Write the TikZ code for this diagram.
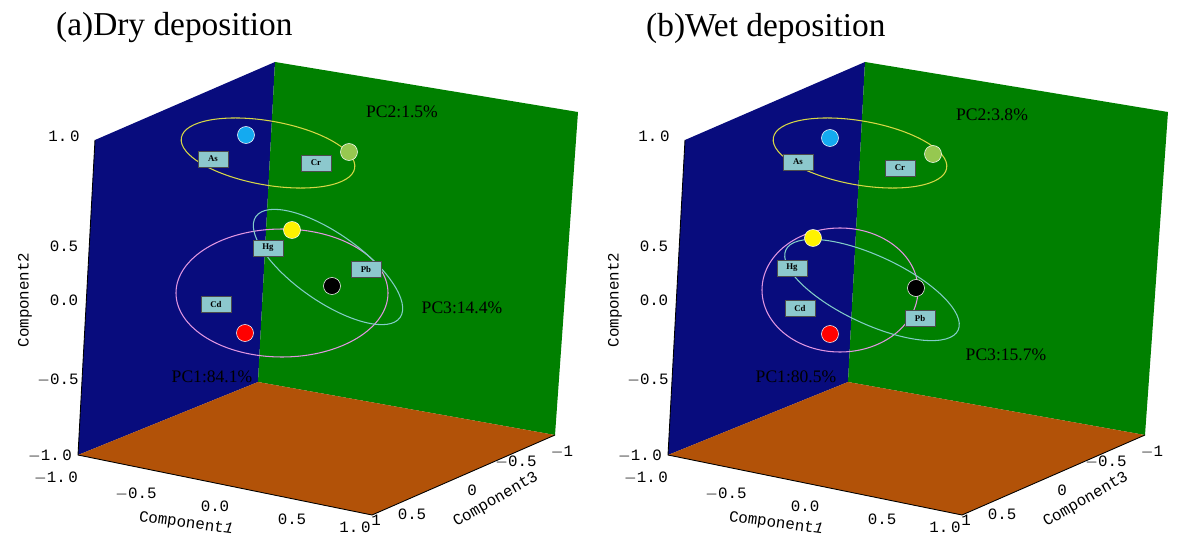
\documentclass[tikz,border=0pt]{standalone}
\usepackage{fontspec}
\setmainfont{Liberation Serif}
\setmonofont{Liberation Mono}
\definecolor{wallblue}{RGB}{8,12,125}
\definecolor{wallgreen}{RGB}{0,128,0}
\definecolor{floororange}{RGB}{178,82,8}
\definecolor{tagfill}{RGB}{140,200,205}
\definecolor{ringyellow}{RGB}{215,215,70}
\definecolor{ringviolet}{RGB}{225,150,225}
\definecolor{ringteal}{RGB}{130,205,200}
\definecolor{dotblue}{RGB}{20,170,240}
\definecolor{dotgreen}{RGB}{150,200,80}
\begin{document}
\begin{tikzpicture}[
    x=0.02cm, y=-0.02cm,
    tag/.style={draw=black!70, fill=tagfill, font=\fontsize{5}{6}\selectfont\bfseries, inner sep=1pt, minimum width=0.6cm, minimum height=0.32cm},
    dot/.style={circle, draw=white, line width=0.3pt, minimum size=0.34cm, inner sep=0pt},
    tick/.style={font=\ttfamily\small},
    ring/.style={line width=0.6pt}
    ]

    % Determines the boundries
    \useasboundingbox (0,0) rectangle (1180,544);

    % Walls, floor and ticks for both panels
    \foreach \dx in {0,590}{
        \begin{scope}[shift={(\dx,0)}]
            \fill[wallblue] (95,140) -- (275,62) -- (258,382) -- (78,455) -- cycle;
            \fill[wallgreen] (275,62) -- (578,112) -- (555,435) -- (258,382) -- cycle;
            \fill[floororange] (78,455) -- (258,382) -- (555,435) -- (372,515) -- cycle;
            \draw[line width=0.5pt] (95,140) -- (78,455) -- (372,515) -- (555,435);
            \node[tick] (y1) at (64,136) {1.\,0};
            \node[tick] (y2) at (64,246) {0.5};
            \node[tick] (y3) at (64,300) {0.0};
            \node[tick] (y4) at (58,380) {$-$0.5};
            \node[tick] (y5) at (50,456) {$-$1.\,0};
            \node[tick] (x1) at (56,478) {$-$1.\,0};
            \node[tick] (x2) at (136,494) {$-$0.5};
            \node[tick] (x3) at (215,506) {0.0};
            \node[tick] (x4) at (292,519) {0.5};
            \node[tick] (x5) at (355,527) {1.\,0};
            \node[tick] (z1) at (376,520) {1};
            \node[tick] (z2) at (412,514) {0.5};
            \node[tick] (z3) at (472,490) {0};
            \node[tick] (z4) at (516,462) {$-$0.5};
            \node[tick] (z5) at (562,452) {$-$1};
            \node[tick, rotate=90] (ay) at (25,300) {Component2};
            \node[tick, rotate=-8] (ax) at (186,524) {Component\textit{1}};
            \node[tick, rotate=30] (az) at (496,500) {Component3};
        \end{scope}
    }

    % (a) Dry deposition
    \node[font=\fontsize{19}{22}\selectfont, anchor=west] (ta) at (50,28) {(a)Dry deposition};
    \draw[ring, ringyellow] (268,153) ellipse [x radius=88, y radius=32, rotate=-10];
    \draw[ring, ringviolet] (282,293) ellipse [x radius=106, y radius=64];
    \draw[ring, ringteal] (328,267) ellipse [x radius=88, y radius=34, rotate=-35];
    \node[dot, fill=dotblue] (Asa) at (246,135) {};
    \node[dot, fill=dotgreen] (Cra) at (349,152) {};
    \node[dot, fill=yellow] (Hga) at (292,230) {};
    \node[dot, fill=black] (Pba) at (332,286) {};
    \node[dot, fill=red] (Cda) at (245,333) {};
    \node[tag] (tAsa) at (213,159) {As};
    \node[tag] (tCra) at (316,163) {Cr};
    \node[tag] (tHga) at (268,248) {Hg};
    \node[tag] (tPba) at (366,269) {Pb};
    \node[tag] (tCda) at (216,304) {Cd};
    \node (pc2a) at (402,112) {PC2:1.5\%};
    \node (pc3a) at (462,308) {PC3:14.4\%};
    \node (pc1a) at (212,377) {PC1:84.1\%};

    % (b) Wet deposition
    \node[font=\fontsize{19}{22}\selectfont, anchor=west] (tb) at (640,28) {(b)Wet deposition};
    \draw[ring, ringyellow] (860,153) ellipse [x radius=88, y radius=32, rotate=-10];
    \draw[ring, ringviolet] (840,290) ellipse [x radius=78, y radius=62];
    \draw[ring, ringteal] (872,290) ellipse [x radius=95, y radius=34, rotate=-25];
    \node[dot, fill=dotblue] (Asb) at (830,138) {};
    \node[dot, fill=dotgreen] (Crb) at (933,154) {};
    \node[dot, fill=yellow] (Hgb) at (813,238) {};
    \node[dot, fill=black] (Pbb) at (916,288) {};
    \node[dot, fill=red] (Cdb) at (830,334) {};
    \node[tag] (tAsb) at (798,162) {As};
    \node[tag] (tCrb) at (900,168) {Cr};
    \node[tag] (tHgb) at (792,268) {Hg};
    \node[tag] (tCdb) at (800,308) {Cd};
    \node[tag] (tPbb) at (920,318) {Pb};
    \node (pc2b) at (992,115) {PC2:3.8\%};
    \node (pc3b) at (1006,355) {PC3:15.7\%};
    \node (pc1b) at (796,377) {PC1:80.5\%};
\end{tikzpicture}
\end{document}
